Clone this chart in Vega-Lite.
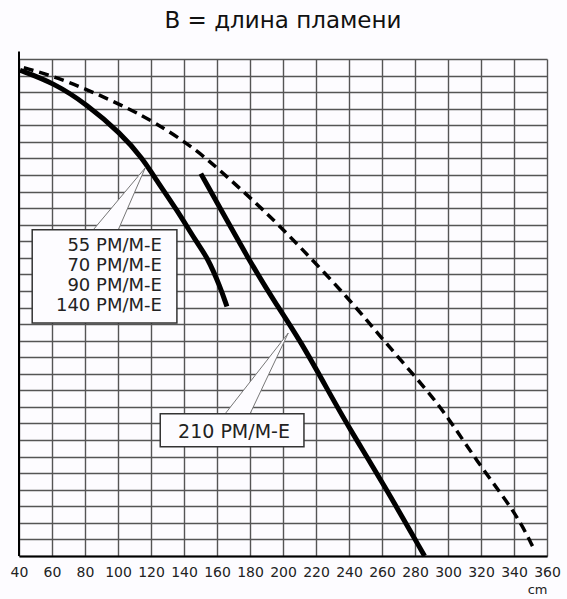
{
  "$schema": "https://vega.github.io/schema/vega-lite/v6.json",
  "width": 528,
  "height": 497,
  "autosize": "none",
  "padding": {"left": 19, "top": 59, "right": 20, "bottom": 43},
  "background": "#fdfcff",
  "title": {"text": "B = длина пламени", "font": "DejaVu Sans", "fontSize": 23, "fontWeight": "normal", "color": "#111", "anchor": "middle", "offset": 18},
  "config": {"view": {"stroke": null}},
  "datasets": {
    "curves": [
      {"series": "a", "x": 40.6, "y": 29.32},
      {"series": "a", "x": 61.05, "y": 28.56},
      {"series": "a", "x": 81.3, "y": 27.25},
      {"series": "a", "x": 101.4, "y": 25.54},
      {"series": "a", "x": 115.5, "y": 23.93},
      {"series": "a", "x": 121.6, "y": 22.92},
      {"series": "a", "x": 135.7, "y": 20.9},
      {"series": "a", "x": 147.8, "y": 18.9},
      {"series": "a", "x": 153.9, "y": 18.08},
      {"series": "a", "x": 161.9, "y": 16.27},
      {"series": "a", "x": 166.0, "y": 15.06},
      {"series": "b", "x": 150.2, "y": 23.08},
      {"series": "b", "x": 181.0, "y": 17.58},
      {"series": "b", "x": 194.1, "y": 15.47},
      {"series": "b", "x": 210.3, "y": 13.05},
      {"series": "b", "x": 230.4, "y": 9.43},
      {"series": "b", "x": 240.5, "y": 7.67},
      {"series": "b", "x": 260.6, "y": 4.39},
      {"series": "b", "x": 285.8, "y": 0.0}
    ],
    "dashed": [
      {"x": 42.9, "y": 29.47},
      {"x": 61.0, "y": 28.96},
      {"x": 81.2, "y": 28.16},
      {"x": 101.4, "y": 27.25},
      {"x": 121.5, "y": 26.24},
      {"x": 147.8, "y": 24.53},
      {"x": 167.9, "y": 22.72},
      {"x": 188.1, "y": 20.91},
      {"x": 210.1, "y": 18.69},
      {"x": 240.5, "y": 15.47},
      {"x": 260.6, "y": 13.05},
      {"x": 288.9, "y": 9.83},
      {"x": 301.0, "y": 8.22},
      {"x": 321.1, "y": 5.2},
      {"x": 341.3, "y": 2.58},
      {"x": 352.4, "y": 0.36}
    ],
    "pointers": [
      {"callout": "1", "y": 19.7, "x": 85.1, "x2": 100.2},
      {"callout": "1", "y": 23.43, "x": 116.5, "x2": 116.5},
      {"callout": "2", "y": 8.58, "x": 164.9, "x2": 180.0},
      {"callout": "2", "y": 13.46, "x": 203.2, "x2": 203.2}
    ],
    "boxes": [
      {"x": 48.0, "x2": 135.7, "y": 19.7, "y2": 14.06},
      {"x": 125.6, "x2": 212.7, "y": 8.58, "y2": 6.59}
    ],
    "labels": [
      {"x": 126.6, "y": 18.69, "text": "55 PM/M-E"},
      {"x": 126.6, "y": 17.48, "text": "70 PM/M-E"},
      {"x": 126.6, "y": 16.31, "text": "90 PM/M-E"},
      {"x": 126.6, "y": 15.11, "text": "140 PM/M-E"}
    ],
    "labels2": [
      {"x": 170.3, "y": 7.5, "text": "210 PM/M-E"}
    ],
    "leftaxis": [
      {"x": 40, "y": 0, "y2": 30.45}
    ]
  },
  "encoding": {
    "x": {"field": "x", "type": "quantitative", "scale": {"domain": [40, 360], "nice": false, "zero": false},
      "axis": {"values": [40,60,80,100,120,140,160,180,200,220,240,260,280,300,320,340,360], "labelOverlap": false, "grid": true, "gridColor": "#555", "gridWidth": 1.4, "gridOpacity": 1, "ticks": false, "labelPadding": 9, "labelFont": "DejaVu Sans", "labelFontSize": 14, "labelColor": "#222", "domainColor": "#000", "domainWidth": 2, "title": "cm", "titleAnchor": "end", "titleAlign": "right", "titleFont": "DejaVu Sans", "titleFontSize": 13, "titleFontWeight": "normal", "titleColor": "#222", "titlePadding": 4, "labelFlush": false}},
    "y": {"field": "y", "type": "quantitative", "scale": {"domain": [0, 30], "nice": false, "zero": false},
      "axis": {"values": [0,1,2,3,4,5,6,7,8,9,10,11,12,13,14,15,16,17,18,19,20,21,22,23,24,25,26,27,28,29,30], "labelOverlap": false, "grid": true, "gridColor": "#555", "gridWidth": 1.4, "gridOpacity": 1, "labels": false, "ticks": false, "domain": false, "title": null}}
  },
  "layer": [
    {
      "data": {"name": "curves"},
      "mark": {"type": "line", "color": "#000", "strokeWidth": 5, "interpolate": "basis", "strokeCap": "butt"},
      "encoding": {"detail": {"field": "series"}}
    },
    {
      "data": {"name": "dashed"},
      "mark": {"type": "line", "color": "#000", "strokeWidth": 3.5, "strokeDash": [10, 6], "interpolate": "basis"},
      "encoding": {}
    },
    {
      "data": {"name": "leftaxis"},
      "mark": {"type": "rule", "color": "#000", "strokeWidth": 2},
      "encoding": {"y2": {"field": "y2"}}
    },
    {
      "data": {"name": "pointers"},
      "mark": {"type": "area", "orient": "horizontal", "fill": "#fdfcff", "fillOpacity": 1, "stroke": "#777", "strokeWidth": 1},
      "encoding": {"x2": {"field": "x2"}, "detail": {"field": "callout"}}
    },
    {
      "data": {"name": "boxes"},
      "mark": {"type": "rect", "fill": "#fdfcff", "stroke": "#333", "strokeWidth": 1.5},
      "encoding": {"x2": {"field": "x2"}, "y2": {"field": "y2"}}
    },
    {
      "data": {"name": "labels"},
      "mark": {"type": "text", "align": "right", "baseline": "middle", "font": "DejaVu Sans", "fontSize": 18, "color": "#222"},
      "encoding": {"text": {"field": "text"}}
    },
    {
      "data": {"name": "labels2"},
      "mark": {"type": "text", "align": "center", "baseline": "middle", "font": "DejaVu Sans", "fontSize": 19, "color": "#222"},
      "encoding": {"text": {"field": "text"}}
    }
  ]
}
